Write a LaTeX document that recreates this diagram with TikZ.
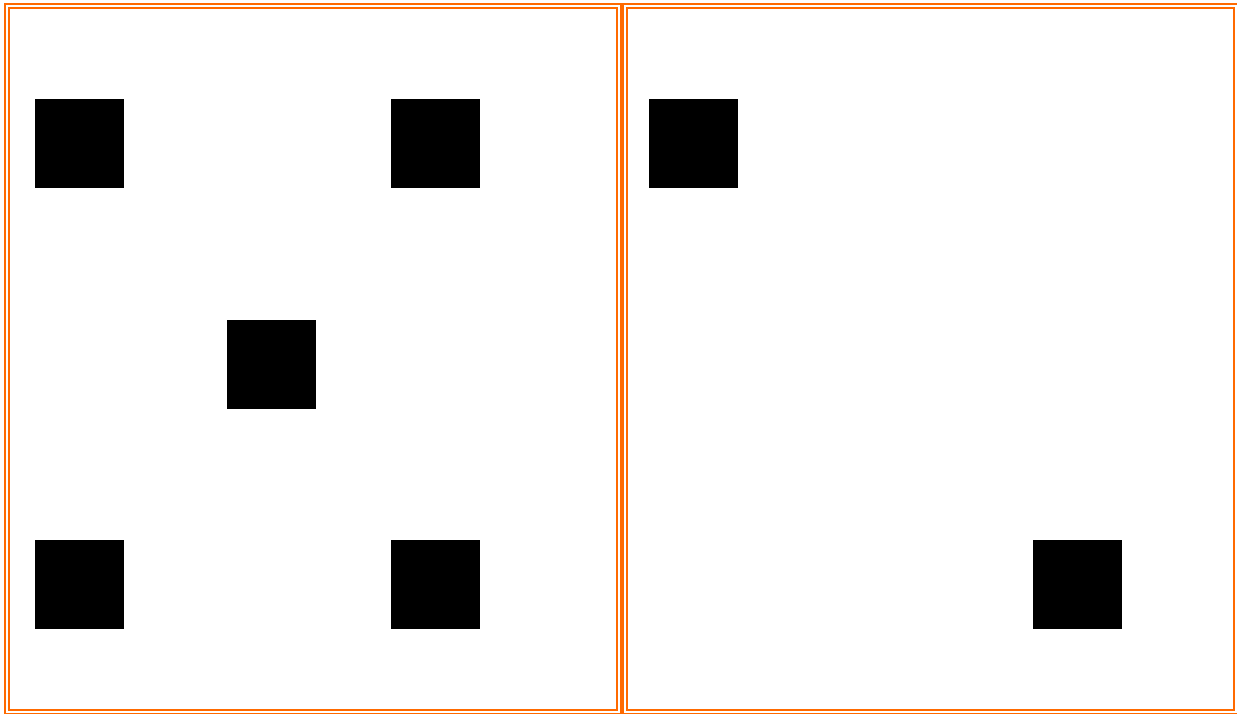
\documentclass[tikz,border=0pt]{standalone}
\usepackage{tikz}
\usetikzlibrary{positioning}
\definecolor{dieorange}{HTML}{FF6A00}

\begin{document}
\begin{tikzpicture}[x=1pt,y=-1pt,
  face/.style={draw=dieorange,double=white,double distance=1.6pt,line width=2.4pt},
  pip/.style={fill=black,minimum size=89pt,inner sep=0pt,outer sep=0pt,anchor=north west}]
\useasboundingbox (0,0) rectangle (1237,713);
\node[face,minimum width=612.5pt,minimum height=705.5pt,anchor=north west,inner sep=0pt] (f1) at (5.5,5) {};
\node[face,minimum width=611pt,minimum height=705.5pt,anchor=north west,inner sep=0pt] (f2) at (623.5,5) {};
% first face
\node[pip] (p1) at (35,99) {};
\node[pip] (p2) at (391,99) {};
\node[pip] (p3) at (227,320) {};
\node[pip] (p4) at (35,540) {};
\node[pip] (p5) at (391,540) {};
% second face
\node[pip] (q1) at (649,99) {};
\node[pip] (q2) at (1033,540) {};
\end{tikzpicture}
\end{document}
